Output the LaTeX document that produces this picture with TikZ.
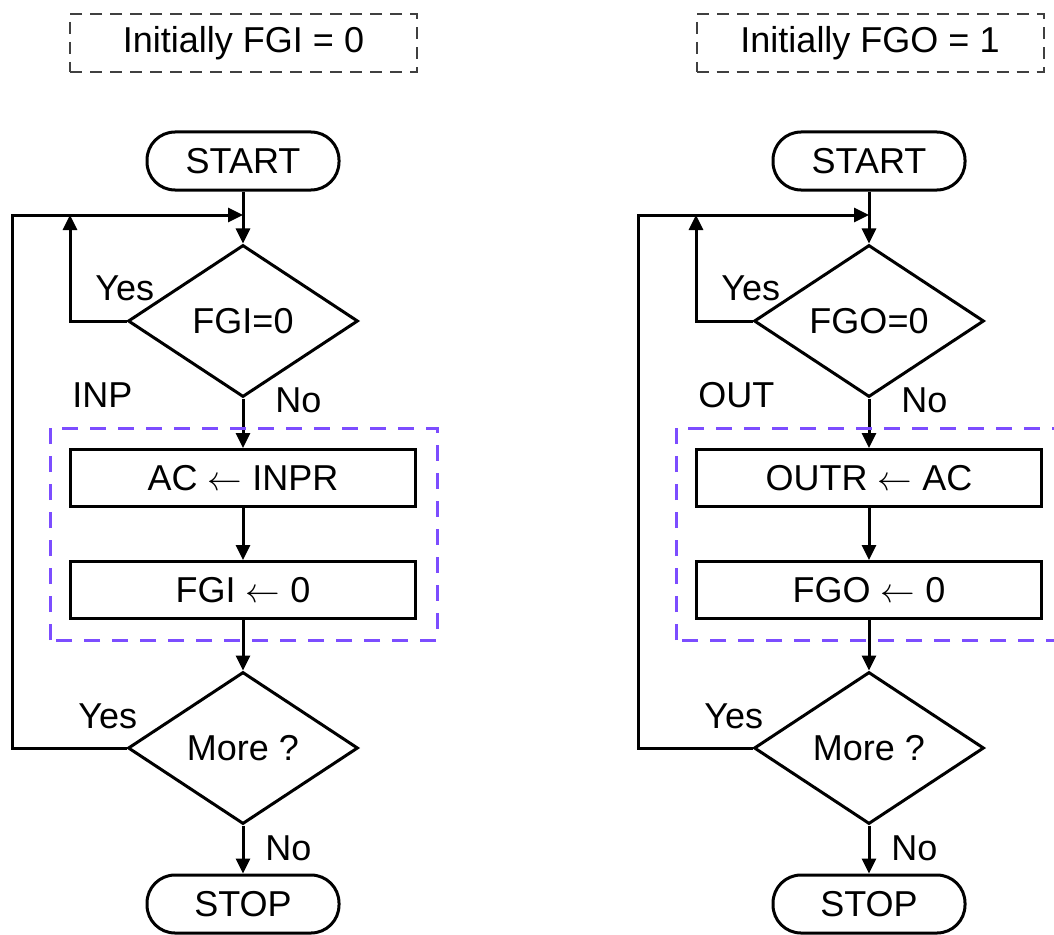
\documentclass[tikz,border=0pt]{standalone}
\usepackage{fontspec}
\setmainfont{Liberation Sans}
\usetikzlibrary{shapes.geometric,arrows.meta}

\definecolor{grpblue}{RGB}{124,77,255}

\tikzset{
  term/.style={draw,line width=1.5pt,rounded corners=14pt,minimum width=96pt,minimum height=29pt,inner sep=0pt},
  proc/.style={draw,line width=1.5pt,minimum width=172.5pt,minimum height=28.5pt,inner sep=0pt},
  test/.style={draw,diamond,line width=1.5pt,minimum width=115pt,minimum height=76pt,inner sep=0pt},
  note/.style={draw=black!75,line width=1pt,dash pattern=on 6pt off 4pt,minimum width=173.5pt,minimum height=29pt},
  flow/.style={line width=1.5pt,-{Triangle[length=7.5pt,width=7pt]}},
  group/.style={draw=grpblue,line width=1.5pt,dash pattern=on 8pt off 6pt},
  tag/.style={anchor=west,inner sep=0pt}
}

\begin{document}
\begin{tikzpicture}[x=0.5pt,y=0.5pt,font=\fontsize{18}{22}\selectfont]
    \clip (0,0) rectangle (1054,934);

    % input side
    \node[note] (inInit) at (243.5,891) {Initially FGI = 0};
    \node[term] (inStart) at (243,773) {START};
    \node[test] (inTest) at (243,613) {FGI=0};
    \node[proc] (inLoad) at (243,456) {AC $\leftarrow$ INPR};
    \node[proc] (inClear) at (243,344) {FGI $\leftarrow$ 0};
    \node[test] (inMore) at (243,186) {More ?};
    \node[term] (inStop) at (243,30) {STOP};
    \coordinate (inJoin) at (243,719);
    \coordinate (inWait) at (70,719);
    \coordinate (inBack) at (12,719);

    \draw[flow] (inStart) -- (inTest);
    \draw[flow] (inTest.west) -| (inWait);
    \draw[flow] (inTest) -- (inLoad);
    \draw[flow] (inLoad) -- (inClear);
    \draw[flow] (inClear) -- (inMore);
    \draw[flow] (inMore) -- (inStop);
    \draw[flow] (inMore.west) -| (inBack) -- (inJoin);
    \draw[group] (50,294) rectangle (437,506);

    \node[tag] (inYesA) at (95,646) {Yes};
    \node[tag] (inName) at (72,539) {INP};
    \node[tag] (inNoA) at (275,534) {No};
    \node[tag] (inYesB) at (78,218) {Yes};
    \node[tag] (inNoB) at (265,86) {No};

    % output side
    \node[note] (outInit) at (870,891) {Initially FGO = 1};
    \node[term] (outStart) at (869,773) {START};
    \node[test] (outTest) at (869,613) {FGO=0};
    \node[proc] (outStore) at (869,456) {OUTR $\leftarrow$ AC};
    \node[proc] (outClear) at (869,344) {FGO $\leftarrow$ 0};
    \node[test] (outMore) at (869,186) {More ?};
    \node[term] (outStop) at (869,30) {STOP};
    \coordinate (outJoin) at (869,719);
    \coordinate (outWait) at (696,719);
    \coordinate (outBack) at (638,719);

    \draw[flow] (outStart) -- (outTest);
    \draw[flow] (outTest.west) -| (outWait);
    \draw[flow] (outTest) -- (outStore);
    \draw[flow] (outStore) -- (outClear);
    \draw[flow] (outClear) -- (outMore);
    \draw[flow] (outMore) -- (outStop);
    \draw[flow] (outMore.west) -| (outBack) -- (outJoin);
    \draw[group] (676,294) rectangle (1063,506);

    \node[tag] (outYesA) at (721,646) {Yes};
    \node[tag] (outName) at (698,539) {OUT};
    \node[tag] (outNoA) at (901,534) {No};
    \node[tag] (outYesB) at (704,218) {Yes};
    \node[tag] (outNoB) at (891,86) {No};
\end{tikzpicture}
\end{document}
